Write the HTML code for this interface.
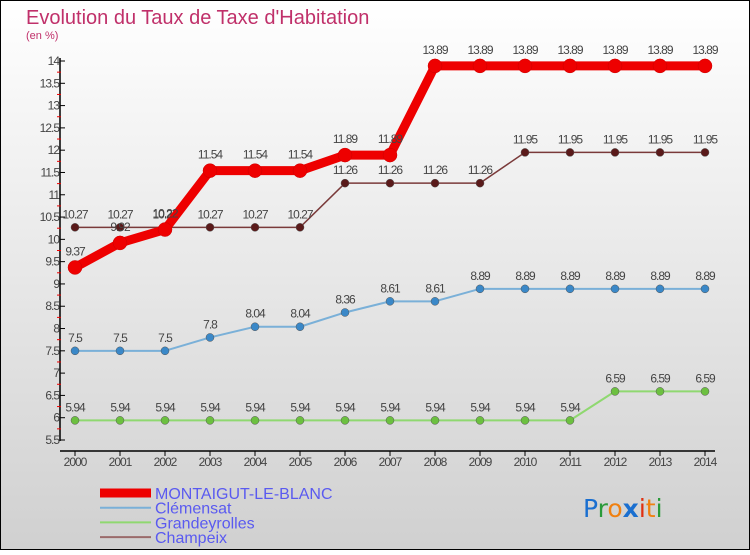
<!DOCTYPE html>
<html><head><meta charset="utf-8"><style>
html,body{margin:0;padding:0}
body{width:750px;height:550px;overflow:hidden;font-family:"Liberation Sans",sans-serif}
</style></head><body>
<svg id="c" width="750" height="550" xmlns="http://www.w3.org/2000/svg">
<defs><linearGradient id="bg" x1="0" y1="0" x2="0" y2="1"><stop offset="0" stop-color="#ffffff"/><stop offset="1" stop-color="#d0d0d0"/></linearGradient></defs>
<rect x="0.5" y="0.5" width="749" height="549" fill="url(#bg)" stroke="#000"/>
<text x="26" y="24" font-size="20" fill="#c0306a">Evolution du Taux de Taxe d'Habitation</text>
<text x="26" y="39" font-size="11" fill="#c0306a">(en %)</text>
<g id="axes"></g><g id="series"></g><g id="legend"></g>
<text x="583" y="517" font-size="25" font-family="'DejaVu Sans',sans-serif"><tspan fill="#1a6fd0">P</tspan><tspan fill="#2a9a3a">r</tspan><tspan fill="#f08010">o</tspan><tspan fill="#1a6fd0" font-weight="bold">x</tspan><tspan fill="#e03010">i</tspan><tspan fill="#f08010">t</tspan><tspan fill="#2a9a3a">i</tspan></text>
</svg>
<script>
const years=[2000,2001,2002,2003,2004,2005,2006,2007,2008,2009,2010,2011,2012,2013,2014];
const yTicks=[5.5,6,6.5,7,7.5,8,8.5,9,9.5,10,10.5,11,11.5,12,12.5,13,13.5,14];
const montaigut=[9.37,9.92,10.22,11.54,11.54,11.54,11.89,11.89,13.89,13.89,13.89,13.89,13.89,13.89,13.89];
const clemensat=[7.5,7.5,7.5,7.8,8.04,8.04,8.36,8.61,8.61,8.89,8.89,8.89,8.89,8.89,8.89];
const grandeyrolles=[5.94,5.94,5.94,5.94,5.94,5.94,5.94,5.94,5.94,5.94,5.94,5.94,6.59,6.59,6.59];
const champeix=[10.27,10.27,10.27,10.27,10.27,10.27,11.26,11.26,11.26,11.26,11.95,11.95,11.95,11.95,11.95];
const seriesNames=["MONTAIGUT-LE-BLANC","Clémensat","Grandeyrolles","Champeix"];
const NS="http://www.w3.org/2000/svg";
const X=i=>75+(705-75)*i/(years.length-1);
const Y=v=>440-(v-5.5)*(440-61)/(14-5.5);
function el(t,a,p){const e=document.createElementNS(NS,t);for(const k in a)e.setAttribute(k,a[k]);p.appendChild(e);return e;}
const ax=document.getElementById('axes');
const yl=el('line',{x1:60,y1:58,x2:60,y2:441,stroke:'#000','stroke-width':1.5},ax);


const xl=el('line',{x1:60,y1:451,x2:715,y2:451,stroke:'#000','stroke-width':1.5},ax);


yTicks.forEach((v,i)=>{
  el('line',{x1:60,y1:Y(v),x2:65,y2:Y(v),stroke:'#000'},ax);
  if(i<yTicks.length-1) el('line',{x1:57,y1:Y(v+0.25),x2:61,y2:Y(v+0.25),stroke:'#e00'},ax);
  const t=el('text',{x:59,y:Y(v)+4,'text-anchor':'end','font-size':12,fill:'#444','letter-spacing':'-1'},ax);
  t.textContent=String(v);
  
  
});
years.forEach((yr,i)=>{
  el('line',{x1:X(i),y1:451,x2:X(i),y2:456,stroke:'#000'},ax);
  const t=el('text',{x:X(i),y:466,'text-anchor':'middle','font-size':12,fill:'#444','letter-spacing':'-1'},ax);
  t.textContent=yr;
  
  
});
const sg=document.getElementById('series');
const cfg=[[grandeyrolles,'#8fd870','#6cc040',2,4,'grandeyrolles'],[clemensat,'#7ab0d8','#3a88c8',2,4,'clemensat'],[champeix,'#7a3a3a','#5a1a1a',1.5,4,'champeix'],[montaigut,'#ee0000','#ee0000',9,7,'montaigut']];
cfg.forEach(([d,lc,pc,w,r,n])=>{
  const g=el('g',{},sg);
  
  
  const p=el('polyline',{points:d.map((v,i)=>X(i)+','+Y(v)).join(' '),fill:'none',stroke:lc,'stroke-width':w,'stroke-linejoin':'round'},g);
  
  
  d.forEach((v,i)=>{
    const c=el('circle',{cx:X(i),cy:Y(v),r:r,fill:pc,stroke:n==='montaigut'?'#cc0000':'#555','stroke-width':0.5},g);
    
    
    const t=el('text',{x:X(i),y:Y(v)-(n==='montaigut'?12:9),'text-anchor':'middle','font-size':12,fill:'#444','letter-spacing':'-1'},g);
    t.textContent=String(v);
    
    
  });
});
const lg=document.getElementById('legend');
const lcols=['#ee0000','#7ab0d8','#8fd870','#9a6a6a'],lw=[9,2,2,2];
seriesNames.forEach((s,i)=>{
  const y=493+i*14.7;
  const g=el('g',{},lg);
  
  
  el('line',{x1:100,y1:y,x2:151,y2:y,stroke:lcols[i],'stroke-width':lw[i]},g);
  const t=el('text',{x:155,y:y+6,'font-size':16,fill:'#5a5af0'},g);
  t.textContent=s;
});
</script>
</body></html>
